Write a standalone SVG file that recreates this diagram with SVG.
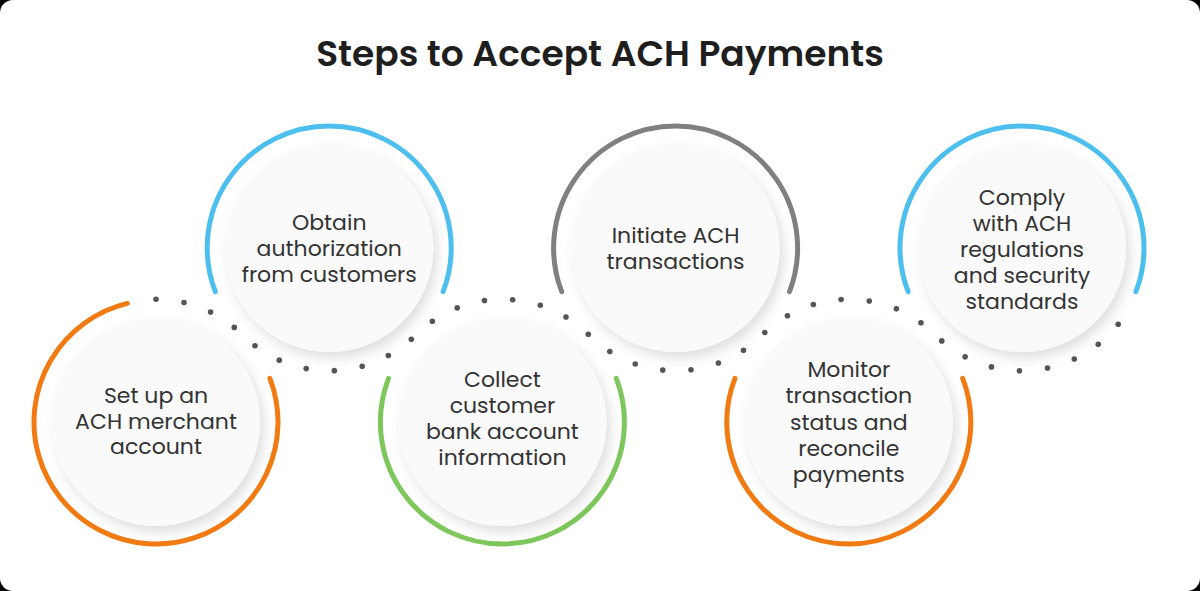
<svg xmlns="http://www.w3.org/2000/svg" width="1200" height="591" viewBox="0 0 1200 591">
<style>
.arc{fill:none;stroke-width:5;stroke-linecap:round}
.orange{stroke:#F27A12}
.blue{stroke:#4DBFEF}
.green{stroke:#7DC75C}
.gray{stroke:#808080}
.disc{fill:#FAFAFA;filter:url(#sh)}
.lbl{font-family:"Poppins","Inter","Liberation Sans",sans-serif;font-size:22px;fill:#333333;text-anchor:middle}
.title{font-family:"Poppins","Inter","Liberation Sans",sans-serif;font-size:36px;font-weight:600;fill:#1E1E1E;text-anchor:middle}
.dots circle{fill:#555555}
</style>
<defs>
<filter id="sh" x="-30%" y="-30%" width="170%" height="170%">
<feDropShadow dx="4" dy="6" stdDeviation="6" flood-color="#000000" flood-opacity="0.13"/>
</filter>
</defs>
<rect x="0" y="0" width="1200" height="591" fill="#000000"/>
<rect x="0" y="0" width="1200" height="591" rx="13" fill="#FFFFFF"/>
<text class="title" x="600" y="66">Steps to Accept ACH Payments</text>
<g id="connectors" class="dots">
<circle cx="156" cy="299.25" r="2.8"/>
<circle cx="184.04" cy="302.49" r="2.8"/>
<circle cx="210.58" cy="312.05" r="2.8"/>
<circle cx="234.24" cy="327.42" r="2.8"/>
<circle cx="254.99" cy="345.77" r="2.8"/>
<circle cx="279.28" cy="360.13" r="2.8"/>
<circle cx="306.2" cy="368.58" r="2.8"/>
<circle cx="334.34" cy="370.64" r="2.8"/>
<circle cx="362.21" cy="366.24" r="2.8"/>
<circle cx="388.34" cy="355.57" r="2.8"/>
<circle cx="411.33" cy="339.22" r="2.8"/>
<circle cx="432.35" cy="321.21" r="2.8"/>
<circle cx="457.22" cy="307.87" r="2.8"/>
<circle cx="484.47" cy="300.57" r="2.8"/>
<circle cx="512.67" cy="299.68" r="2.8"/>
<circle cx="540.33" cy="305.25" r="2.8"/>
<circle cx="565.98" cy="316.99" r="2.8"/>
<circle cx="588.29" cy="334.29" r="2.8"/>
<circle cx="609.83" cy="351.53" r="2.8"/>
<circle cx="635.23" cy="363.93" r="2.8"/>
<circle cx="662.77" cy="370.08" r="2.8"/>
<circle cx="690.98" cy="369.78" r="2.8"/>
<circle cx="718.39" cy="363.05" r="2.8"/>
<circle cx="743.53" cy="350.24" r="2.8"/>
<circle cx="764.78" cy="332.51" r="2.8"/>
<circle cx="787.43" cy="315.7" r="2.8"/>
<circle cx="813.32" cy="304.49" r="2.8"/>
<circle cx="841.09" cy="299.5" r="2.8"/>
<circle cx="869.27" cy="300.97" r="2.8"/>
<circle cx="896.37" cy="308.84" r="2.8"/>
<circle cx="920.95" cy="322.69" r="2.8"/>
<circle cx="941.79" cy="340.92" r="2.8"/>
<circle cx="965.13" cy="356.78" r="2.8"/>
<circle cx="991.47" cy="366.89" r="2.8"/>
<circle cx="1019.43" cy="370.72" r="2.8"/>
<circle cx="1047.52" cy="368.06" r="2.8"/>
<circle cx="1074.27" cy="359.07" r="2.8"/>
<circle cx="1098.24" cy="344.2" r="2.8"/>
<circle cx="1118.2" cy="324.24" r="2.8"/>
</g>
<g id="step1">
<path class="arc orange" d="M127.32,303.42 A122,122 0 1 0 269.9,378.28"/>
<circle class="disc" cx="156" cy="422" r="104"/>
<text class="lbl" x="156" y="403">Set up an</text>
<text class="lbl" x="156" y="428.5">ACH merchant</text>
<text class="lbl" x="156" y="454">account</text>
</g>
<g id="step2">
<path class="arc blue" d="M215.3,291.72 A122,122 0 1 1 443.1,291.72"/>
<circle class="disc" cx="329.2" cy="248" r="104"/>
<text class="lbl" x="329.2" y="230">Obtain</text>
<text class="lbl" x="329.2" y="256">authorization</text>
<text class="lbl" x="329.2" y="282">from customers</text>
</g>
<g id="step3">
<path class="arc green" d="M388.5,378.28 A122,122 0 1 0 616.3,378.28"/>
<circle class="disc" cx="502.4" cy="422" r="104"/>
<text class="lbl" x="502.4" y="387">Collect</text>
<text class="lbl" x="502.4" y="413">customer</text>
<text class="lbl" x="502.4" y="439">bank account</text>
<text class="lbl" x="502.4" y="465">information</text>
</g>
<g id="step4">
<path class="arc gray" d="M561.7,291.72 A122,122 0 1 1 789.5,291.72"/>
<circle class="disc" cx="675.6" cy="248" r="104"/>
<text class="lbl" x="675.6" y="243">Initiate ACH</text>
<text class="lbl" x="675.6" y="269">transactions</text>
</g>
<g id="step5">
<path class="arc orange" d="M734.9,378.28 A122,122 0 1 0 962.7,378.28"/>
<circle class="disc" cx="848.8" cy="422" r="104"/>
<text class="lbl" x="848.8" y="377">Monitor</text>
<text class="lbl" x="848.8" y="403">transaction</text>
<text class="lbl" x="848.8" y="429.5">status and</text>
<text class="lbl" x="848.8" y="455.5">reconcile</text>
<text class="lbl" x="848.8" y="482">payments</text>
</g>
<g id="step6">
<path class="arc blue" d="M908.1,291.72 A122,122 0 1 1 1135.9,291.72"/>
<circle class="disc" cx="1022" cy="248" r="104"/>
<text class="lbl" x="1022" y="205">Comply</text>
<text class="lbl" x="1022" y="231">with ACH</text>
<text class="lbl" x="1022" y="257">regulations</text>
<text class="lbl" x="1022" y="283">and security</text>
<text class="lbl" x="1022" y="308.5">standards</text>
</g>
</svg>
